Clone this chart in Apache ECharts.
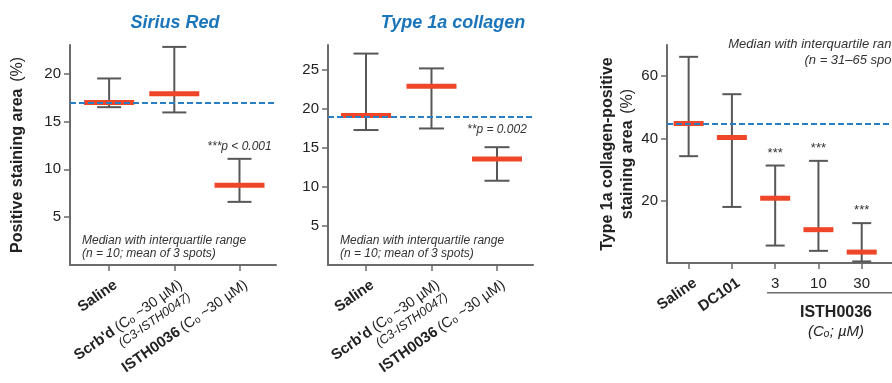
<!DOCTYPE html>
<html>
<head>
<meta charset="utf-8">
<script src="https://cdn.jsdelivr.net/npm/echarts@6/dist/echarts.min.js"></script>
<style>
  html, body { margin: 0; padding: 0; background: #fff; }
  #chart { width: 892px; height: 383px; }
</style>
</head>
<body>
<div id="chart"></div>
<script>
// ---- data ----
// Sirius Red panel
var siriusCats = ['Saline', "Scrb'd", 'ISTH0036'];
var siriusMedian = [17.0, 17.9, 8.35];
var siriusQ1 = [16.5, 15.95, 6.6];
var siriusQ3 = [19.5, 22.8, 11.1];
var siriusRef = 17.0;
var siriusSig = ['', '', '***p < 0.001'];
var siriusTicks = [5, 10, 15, 20];

// Type 1a collagen panel
var collCats = ['Saline', "Scrb'd", 'ISTH0036'];
var collMedian = [19.15, 22.9, 13.6];
var collQ1 = [17.3, 17.5, 10.8];
var collQ3 = [27.1, 25.2, 15.1];
var collRef = 19.0;
var collSig = ['', '', '**p = 0.002'];
var collTicks = [5, 10, 15, 20, 25];

// dose panel (right)
var doseCats = ['Saline', 'DC101', '3', '10', '30'];
var doseMedian = [44.8, 40.3, 20.8, 10.7, 3.5];
var doseQ1 = [34.3, 18.0, 5.6, 3.9, 0.5];
var doseQ3 = [66.2, 54.2, 31.3, 32.8, 12.8];
var doseRef = 44.8;
var doseSig = ['', '', '***', '***', '***'];
var doseTicks = [20, 40, 60];

var FONT = '"Liberation Sans", Arial, Helvetica, sans-serif';
var AXIS = '#6b6b6b';
var RED = '#ef4528';
var WHISK = '#575757';
var BLUE = '#2a7ec3';

var chart = echarts.init(document.getElementById('chart'));

function rows(med, q1, q3) {
  var out = [];
  for (var i = 0; i < med.length; i++) out.push([i, med[i], q1[i], q3[i]]);
  return out;
}

// whisker + median bar
function makeRender(sig, barW, capW, sigGap, sigFont) {
  return function (params, api) {
    var x = api.value(0);
    var pM = api.coord([x, api.value(1)]);
    var pL = api.coord([x, api.value(2)]);
    var pH = api.coord([x, api.value(3)]);
    var ls = { stroke: WHISK, lineWidth: 2 };
    var kids = [
      { type: 'line', shape: { x1: pL[0], y1: pL[1], x2: pH[0], y2: pH[1] }, style: ls },
      { type: 'line', shape: { x1: pH[0] - capW / 2, y1: pH[1], x2: pH[0] + capW / 2, y2: pH[1] }, style: ls },
      { type: 'line', shape: { x1: pL[0] - capW / 2, y1: pL[1], x2: pL[0] + capW / 2, y2: pL[1] }, style: ls },
      { type: 'rect', shape: { x: pM[0] - barW / 2, y: pM[1] - 2.5, width: barW, height: 5 }, style: { fill: RED } }
    ];
    var s = sig[params.dataIndex];
    if (s) {
      kids.push({ type: 'text', x: pH[0], y: pH[1] - sigGap,
        style: { text: s, font: sigFont, fill: '#333', align: 'center', verticalAlign: 'middle' } });
    }
    return { type: 'group', children: kids };
  };
}

function yAxisCfg(grid, max, ticks, name, gap) {
  return {
    gridIndex: grid, type: 'value', min: 0, max: max,
    name: name, nameLocation: 'middle', nameGap: gap,
    nameTextStyle: {
      rich: {
        b: { fontFamily: FONT, fontWeight: 'bold', fontSize: 16, color: '#222', lineHeight: 20 },
        n: { fontFamily: FONT, fontSize: 16, color: '#222', lineHeight: 20 }
      }
    },
    axisLine: { show: true, onZero: false, lineStyle: { color: AXIS, width: 2 } },
    axisTick: { show: true, customValues: ticks, length: 6, lineStyle: { color: AXIS, width: 1.5 } },
    axisLabel: { customValues: ticks, margin: 9, fontFamily: FONT, fontSize: 15, color: '#222' },
    splitLine: { show: false }
  };
}

var catRich = {
  b: { fontFamily: FONT, fontWeight: 'bold', fontSize: 15, color: '#222', lineHeight: 16 },
  n: { fontFamily: FONT, fontSize: 14.5, color: '#222', lineHeight: 16 },
  i: { fontFamily: FONT, fontStyle: 'italic', fontSize: 12.5, color: '#222', lineHeight: 14 }
};
var trioLabels = ['{b|Saline}', "{b|Scrb'd} {n|(C\u2092 ~30 \u00b5M)}\n{i|(C3-ISTH0047)}", '{b|ISTH0036} {n|(C\u2092 ~30 \u00b5M)}'];

// axis carrying ticks + line
function xAxisCfg(grid, min, max, idx) {
  return {
    gridIndex: grid, type: 'value', min: min, max: max, position: 'bottom',
    axisLine: { show: true, onZero: false, lineStyle: { color: AXIS, width: 2 } },
    axisTick: { show: true, customValues: idx, length: 6, lineStyle: { color: AXIS, width: 1.5 } },
    axisLabel: { show: false },
    splitLine: { show: false }
  };
}
// label-only axis, nudged a few px right of the ticks like the figure
function xLabelCfg(grid, min, max, width, idx, labels, rotate, margin, nudge) {
  var d = nudge * (max - min) / width;
  return {
    gridIndex: grid, type: 'value', min: min - d, max: max - d, position: 'bottom',
    axisLine: { show: false, onZero: false }, axisTick: { show: false }, splitLine: { show: false },
    axisLabel: {
      customValues: idx, rotate: rotate, margin: margin, rich: catRich,
      align: 'right', verticalAlign: 'top',
      formatter: function (v) { return labels[Math.round(v)]; }
    }
  };
}

var option = {
  backgroundColor: '#fff',
  animation: false,
  grid: [
    { left: 70, top: 45, width: 206, height: 220 },
    { left: 328, top: 45, width: 205, height: 220 },
    { left: 667, top: 45, width: 237, height: 218 }
  ],
  xAxis: [
    xAxisCfg(0, -0.6, 2.56, [0, 1, 2]),
    xAxisCfg(1, -0.58, 2.55, [0, 1, 2]),
    xAxisCfg(2, -0.5, 4.7, [0, 1, 2, 3, 4]),
    xLabelCfg(0, -0.6, 2.56, 206, [0, 1, 2], trioLabels, 35, 12, 2),
    xLabelCfg(1, -0.58, 2.55, 205, [0, 1, 2], trioLabels, 35, 12, 2),
    xLabelCfg(2, -0.5, 4.7, 237, [0, 1], ['{b|Saline}', '{b|DC101}'], 35, 12, 2),
    {
      gridIndex: 2, type: 'value', min: -0.5, max: 4.7, position: 'bottom',
      axisLine: { show: false, onZero: false }, axisTick: { show: false }, splitLine: { show: false },
      axisLabel: {
        customValues: [2, 3, 4], margin: 13, fontFamily: FONT, fontSize: 15, color: '#222',
        formatter: function (v) { return doseCats[Math.round(v)]; }
      }
    }
  ],
  yAxis: [
    yAxisCfg(0, 23, siriusTicks, '{b|Positive staining area}  {n|(%)}', 42),
    yAxisCfg(1, 28.2, collTicks, '', 40),
    yAxisCfg(2, 70, doseTicks, '{b|Type 1a collagen-positive}\n{b|staining area}  {n|(%)}', 29)
  ],
  series: [
    {
      type: 'custom', xAxisIndex: 0, yAxisIndex: 0,
      renderItem: makeRender(siriusSig, 50, 24, 12.5, 'italic 12px ' + FONT),
      encode: { x: 0, y: [1, 2, 3] },
      data: rows(siriusMedian, siriusQ1, siriusQ3),
      markLine: { silent: true, symbol: 'none', label: { show: false },
        lineStyle: { color: BLUE, width: 2, type: [6, 3] }, data: [{ yAxis: siriusRef }] }
    },
    {
      type: 'custom', xAxisIndex: 1, yAxisIndex: 1,
      renderItem: makeRender(collSig, 50, 25, 18, 'italic 12px ' + FONT),
      encode: { x: 0, y: [1, 2, 3] },
      data: rows(collMedian, collQ1, collQ3),
      markLine: { silent: true, symbol: 'none', label: { show: false },
        lineStyle: { color: BLUE, width: 2, type: [6, 3] }, data: [{ yAxis: collRef }] }
    },
    {
      type: 'custom', xAxisIndex: 2, yAxisIndex: 2,
      renderItem: makeRender(doseSig, 30, 19, 12.5, '13px ' + FONT),
      encode: { x: 0, y: [1, 2, 3] },
      data: rows(doseMedian, doseQ1, doseQ3),
      markLine: { silent: true, symbol: 'none', label: { show: false },
        lineStyle: { color: BLUE, width: 2, type: [6, 3] }, data: [{ yAxis: doseRef }] }
    }
  ],
  graphic: [
    { type: 'text', x: 175, y: 23, style: { text: 'Sirius Red', font: 'italic bold 18px ' + FONT, fill: '#1a75bb', align: 'center', verticalAlign: 'middle' } },
    { type: 'text', x: 453, y: 23, style: { text: 'Type 1a collagen', font: 'italic bold 18px ' + FONT, fill: '#1a75bb', align: 'center', verticalAlign: 'middle' } },
    { type: 'text', x: 82, y: 247, style: { text: 'Median with interquartile range\n(n = 10; mean of 3 spots)', font: 'italic 12px ' + FONT, lineHeight: 13.5, fill: '#333', align: 'left', verticalAlign: 'middle' } },
    { type: 'text', x: 340, y: 247, style: { text: 'Median with interquartile range\n(n = 10; mean of 3 spots)', font: 'italic 12px ' + FONT, lineHeight: 13.5, fill: '#333', align: 'left', verticalAlign: 'middle' } },
    { type: 'text', x: 906, y: 52.5, style: { text: 'Median with interquartile range\n(n = 31\u201365 spots)', font: 'italic 13px ' + FONT, lineHeight: 16.5, fill: '#333', align: 'right', verticalAlign: 'middle' } },
    { type: 'line', shape: { x1: 767, y1: 292.7, x2: 900, y2: 292.7 }, style: { stroke: AXIS, lineWidth: 1.5 } },
    { type: 'text', x: 836, y: 313, style: { text: 'ISTH0036', font: 'bold 16px ' + FONT, fill: '#222', align: 'center', verticalAlign: 'middle' } },
    { type: 'text', x: 836, y: 332, style: { text: '(C\u2092; \u00b5M)', font: 'italic 15px ' + FONT, fill: '#222', align: 'center', verticalAlign: 'middle' } }
  ]
};

chart.setOption(option);
</script>
</body>
</html>
